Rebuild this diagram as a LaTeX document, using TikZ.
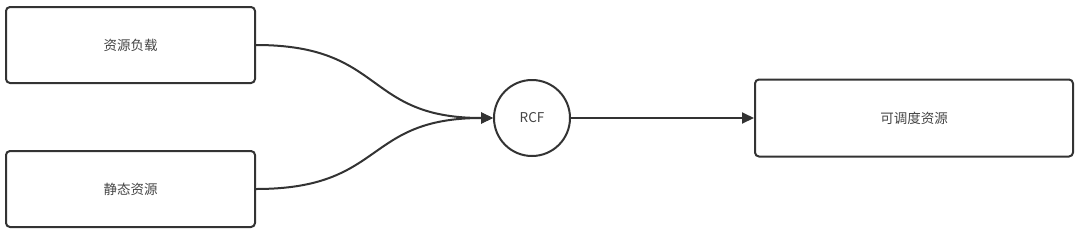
\documentclass[tikz,border=0pt]{standalone}
\usepackage{fontspec}
\setmainfont{Noto Sans CJK SC}
\usetikzlibrary{arrows.meta}
\definecolor{ln}{HTML}{333333}
\definecolor{tx}{HTML}{444444}
\begin{document}
\begin{tikzpicture}[x=1pt,y=-1pt,
  box/.style={draw=ln,line width=2pt,rounded corners=4pt,minimum width=249pt,minimum height=76pt,inner sep=0pt,text=tx,font=\fontsize{13.5pt}{15pt}\selectfont},
  circ/.style={draw=ln,line width=2pt,circle,minimum size=76pt,inner sep=0pt,text=tx,font=\fontsize{13.5pt}{15pt}\selectfont},
  conn/.style={draw=ln,line width=2pt,-{Triangle[length=12pt,width=11pt]}}]
\useasboundingbox (0,0) rectangle (1080,234);
\node[box] (a) at (130.5,45) {资源负载};
\node[box] (b) at (130.5,189) {静态资源};
\node[circ] (c) at (532,118) {RCF};
\node[box,minimum width=318pt,minimum height=77pt] (d) at (914,118) {可调度资源};
\draw[conn] (a.east) .. controls +(130,0) and +(-130,0) .. (c.west);
\draw[conn] (b.east) .. controls +(130,0) and +(-130,0) .. (c.west);
\draw[conn] (c.east) -- (d.west);
\end{tikzpicture}
\end{document}
